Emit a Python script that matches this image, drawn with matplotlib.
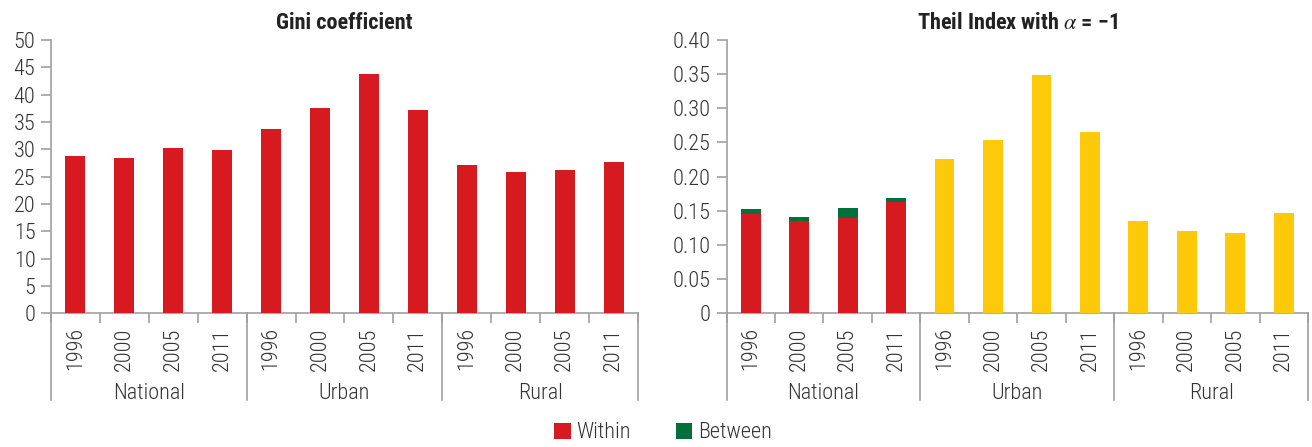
import matplotlib
matplotlib.use("Agg")
import matplotlib.pyplot as plt
from matplotlib.patches import Patch
import numpy as np

plt.rcParams['font.family'] = ['Roboto Condensed', 'DejaVu Sans']
plt.rcParams['font.weight'] = 300
plt.rcParams['mathtext.fontset'] = 'stix'

groups = ["National", "Urban", "Rural"]
years = ["1996", "2000", "2005", "2011"]

gini = [28.8, 28.5, 30.3, 29.9, 33.8, 37.6, 43.8, 37.2, 27.2, 25.9, 26.3, 27.6]

theil_within = [0.146, 0.135, 0.140, 0.163]
theil_between = [0.007, 0.006, 0.014, 0.006]
theil_urban = [0.226, 0.254, 0.349, 0.265]
theil_rural = [0.135, 0.1205, 0.1175, 0.147]

gini_ticks = [0, 5, 10, 15, 20, 25, 30, 35, 40, 45, 50]
theil_ticks = [0, 0.05, 0.10, 0.15, 0.20, 0.25, 0.30, 0.35, 0.40]
theil_ticklabels = ["0", "0.05", "0.10", "0.15", "0.20", "0.25", "0.30", "0.35", "0.40"]

RED = "#D71920"
GREEN = "#00703C"
YELLOW = "#FFC90B"
SPINE = "#A0A0A0"
TXT = "#333333"
FS = 16

fig = plt.figure(figsize=(13.12, 4.47), dpi=100)
ax1 = fig.add_axes([51/1312, 1-313.3/447, (638-51)/1312, 273.3/447])
ax2 = fig.add_axes([726.5/1312, 1-313.3/447, (1308-726.5)/1312, 273.3/447])

xlabels = years * 3
n = len(xlabels)
x = np.arange(n)
W = 0.41

ax1.bar(x, gini, width=W, color=RED, zorder=3)
ax2.bar(x[:4], theil_within, width=W, color=RED, zorder=3)
ax2.bar(x[:4], theil_between, bottom=theil_within, width=W, color=GREEN, zorder=3)
ax2.bar(x[4:8], theil_urban, width=W, color=YELLOW, zorder=3)
ax2.bar(x[8:12], theil_rural, width=W, color=YELLOW, zorder=3)

def style(ax, ticks, ticklabels, ymax, title):
    ax.set_xlim(-0.5, n - 0.5)
    ax.set_ylim(0, ymax)
    for s in ["top", "right"]:
        ax.spines[s].set_visible(False)
    for s in ["left", "bottom"]:
        ax.spines[s].set_color(SPINE)
        ax.spines[s].set_linewidth(1.2)
    ax.set_yticks(ticks)
    ax.set_yticklabels(ticklabels)
    ax.tick_params(axis='y', direction='out', length=7.2, width=1.2, color=SPINE,
                   labelsize=FS, labelcolor=TXT, pad=4)
    ax.set_xticks(x)
    ax.set_xticklabels(xlabels, rotation=90, fontsize=FS, color=TXT)
    ax.tick_params(axis='x', which='major', length=0, pad=10)
    ax.set_xticks(np.arange(-0.5, n, 1.0), minor=True)
    ax.tick_params(axis='x', which='minor', direction='out', length=7.2, width=1.2, color=SPINE)
    trans = ax.get_xaxis_transform()
    for b in [-0.5, 3.5, 7.5, 11.5]:
        ax.plot([b, b], [0, -87/273.3], transform=trans, color=SPINE, lw=1.2, clip_on=False)
    for i, g in enumerate(groups):
        ax.text(1.5 + 4*i, -80/273.3, g, transform=trans, ha='center', va='center',
                fontsize=FS, color=TXT)
    ax.set_title(title, fontsize=16, fontweight='bold', color="#222222", pad=8)

style(ax1, gini_ticks, [str(t) for t in gini_ticks], 50, "Gini coefficient")
style(ax2, theil_ticks, theil_ticklabels, 0.40, r"Theil Index with $\alpha$ = −1")

handles = [Patch(facecolor=RED, label="Within"), Patch(facecolor=GREEN, label="Between")]
fig.legend(handles=handles, loc='center', bbox_to_anchor=(663/1312, 1-433/447), ncol=2,
           frameon=False, fontsize=FS, handlelength=0.75, handleheight=0.75,
           handletextpad=0.25, columnspacing=2.0, labelcolor=TXT)

fig.savefig("out.png", dpi=100)
